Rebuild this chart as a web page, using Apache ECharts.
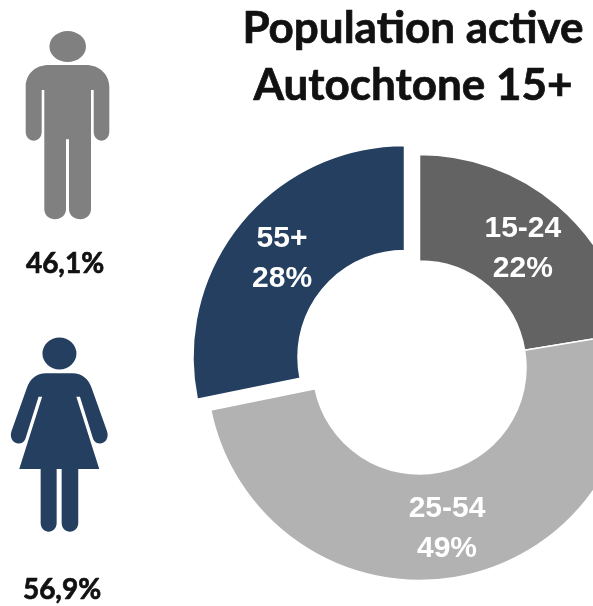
<!DOCTYPE html>
<html>
<head>
<meta charset="utf-8">
<script src="https://cdn.jsdelivr.net/npm/echarts@6/dist/echarts.min.js"></script>
<style>
html, body { margin: 0; padding: 0; background: #fff; }
#main { width: 593px; height: 606px; }
</style>
</head>
<body>
<div id="main"></div>
<script>
var ageGroups = ['15-24', '25-54', '55+'];
var ageValues = [22.4, 49.4, 28.2];
var ageColors = ['#636363', '#B2B2B2', '#243F60'];
var labelOffsets = [[-2, 5], [-2, 1], [3, 4]];
var titleLines = ['Population active', 'Autochtone 15+'];
var genderShares = ['46,1%', '56,9%'];
var genderColors = ['#808080', '#243F60'];

// pictogrammes
var manPath = 'M49,65 H86 C99,65 109.3,74 109.3,87 V132 C109.3,137 105.5,140.7 101.5,140.7 C97.5,140.7 93.7,137 93.7,132 V90 H91 V209 C91,215 86,219.3 80.5,219.3 C74,219.3 69,215 69,209 V139.3 H66 V209 C66,215 61,219.3 55,219.3 C49,219.3 44.3,215 44.3,209 V90 H41.7 V132 C41.7,137 38,140.7 33.7,140.7 C29.5,140.7 25.7,137 25.7,132 V87 C25.7,74 35,65 49,65 Z ' +
    'M49.4,46.5 A18.3,15.5 0 1 1 86,46.5 A18.3,15.5 0 1 1 49.4,46.5 Z';
var womanPath = 'M46,373.3 H72.6 C82,373.3 88.5,379 91.7,388 L107,431 C109.5,438 105,443.5 100,443.5 C97,443.5 94.5,442 93.2,439 L80,396.7 H76.4 L99.3,469 H78.3 V523 C78.3,528 74.5,531.7 70,531.7 C65.5,531.7 61.7,528 61.7,523 V469 H56.7 V523 C56.7,528 53,531.7 48.7,531.7 C44.4,531.7 40.7,528 40.7,523 V469 H19.3 L42.2,396.7 H38.6 L25.4,439 C24.1,442 21.6,443.5 18.6,443.5 C13.6,443.5 9.1,438 11.6,431 L26.9,388 C30,379 36.6,373.3 46,373.3 Z ' +
    'M42.5,353.5 A17,16 0 1 1 76.5,353.5 A17,16 0 1 1 42.5,353.5 Z';
var iconPaths = [manPath, womanPath];
var iconBoxes = [[25.7, 31, 83.6, 188.3], [10.5, 337.5, 97.5, 194.2]];

function pieData(showExploded) { // 两个饼叠在一起，这样 55+ 可以单独偏移
    return ageGroups.map(function(name, i) {
        var exploded = name == '55+';
        var visible = exploded == showExploded;
        return {
            name: name,
            value: ageValues[i],
            itemStyle: visible ? { color: ageColors[i], borderColor: '#fff', borderWidth: 1.5 } : { color: 'rgba(0,0,0,0)', borderWidth: 0 },
            label: { show: visible, offset: labelOffsets[i] }
        };
    });
}

function pieSeries(center, outer, showExploded) {
    return {
        type: 'pie',
        center: center,
        radius: [106.5, outer],
        silent: true,
        animation: false,
        avoidLabelOverlap: false,
        labelLine: { show: false },
        label: {
            position: 'inside',
            color: '#fff',
            fontFamily: 'Liberation Sans',
            fontWeight: 'bold',
            fontSize: 30,
            lineHeight: 40,
            formatter: function(p) {
                return p.name + '\n' + Math.round(p.value) + '%';
            }
        },
        data: pieData(showExploded)
    };
}

function boldText(text, x, y, size) {
    return {
        type: 'text',
        x: x,
        y: y,
        style: {
            text: text,
            fill: '#111',
            stroke: '#111',
            lineWidth: 0.7,
            font: 'bold ' + size + 'px Lato',
            textAlign: 'center',
            textVerticalAlign: 'middle'
        }
    };
}

var chartDom = document.getElementById('main');
var myChart = echarts.init(chartDom);

var option = {
    animation: false,
    backgroundColor: '#fff',
    graphic: [
        boldText(titleLines[0], 413, 29, 44),
        boldText(titleLines[1], 413, 86, 44),
        boldText(genderShares[0], 65, 264, 28),
        boldText(genderShares[1], 62, 590, 28)
    ],
    series: [
        pieSeries([419.5, 367.5], 213, false),
        pieSeries([404.5, 357], 211.5, true),
        {
            type: 'custom',
            coordinateSystem: 'none',
            silent: true,
            data: [0, 1],
            renderItem: function(params) {
                var i = params.dataIndex;
                var box = iconBoxes[i];
                return {
                    type: 'path',
                    shape: { pathData: iconPaths[i], x: box[0], y: box[1], width: box[2], height: box[3] },
                    style: { fill: genderColors[i] }
                };
            }
        }
    ]
};

option && myChart.setOption(option);
</script>
</body>
</html>
